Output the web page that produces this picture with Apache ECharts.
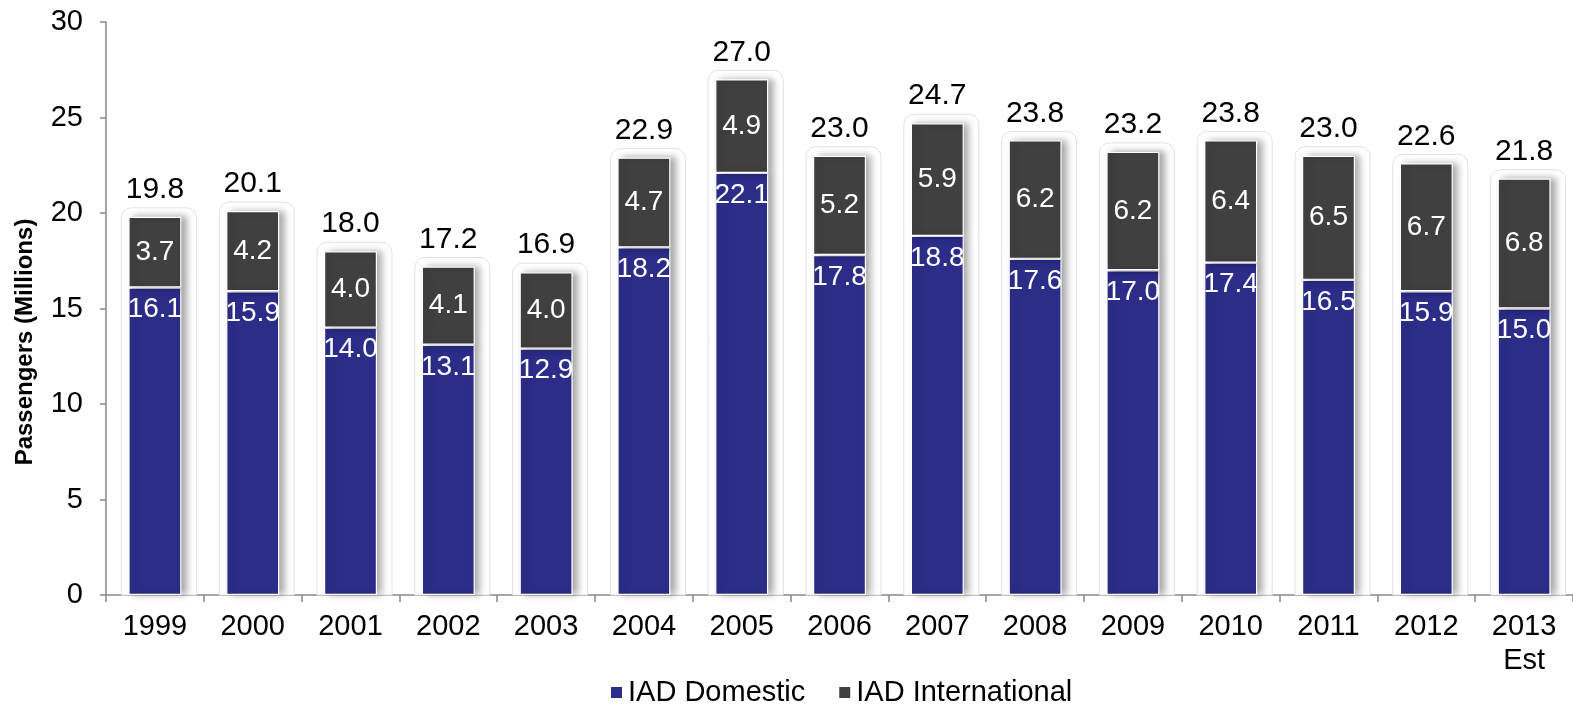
<!DOCTYPE html>
<html>
<head>
<meta charset="utf-8">
<script src="https://cdn.jsdelivr.net/npm/echarts@6/dist/echarts.min.js"></script>
<style>html,body{margin:0;padding:0;background:#fff;}#c{width:1573px;height:706px;}</style>
</head>
<body>
<div id="c"></div>
<script>
var years = ['1999','2000','2001','2002','2003','2004','2005','2006','2007','2008','2009','2010','2011','2012','2013\nEst'];
var domestic = [16.1,15.9,14.0,13.1,12.9,18.2,22.1,17.8,18.8,17.6,17.0,17.4,16.5,15.9,15.0];
var international = [3.7,4.2,4.0,4.1,4.0,4.7,4.9,5.2,5.9,6.2,6.2,6.4,6.5,6.7,6.8];
var totals = [19.8,20.1,18.0,17.2,16.9,22.9,27.0,23.0,24.7,23.8,23.2,23.8,23.0,22.6,21.8];
var yTicks = [0,5,10,15,20,25,30];

var FONT = 'Liberation Sans, Arial, sans-serif';
var BW = 53;
var chart = echarts.init(document.getElementById('c'));
chart.setOption({
  animation: false,
  textStyle: {fontFamily: FONT},
  grid: {left: 106, right: 0, top: 22, bottom: 111, containLabel: false},
  legend: {
    data: ['IAD Domestic','IAD International'],
    left: 604, top: 673,
    itemWidth: 13, itemHeight: 13, itemGap: 32,
    icon: 'rect',
    textStyle: {fontSize: 29, color: '#000', fontFamily: FONT}
  },
  graphic: [{
    type: 'text',
    x: 25, y: 342,
    rotation: Math.PI / 2,
    style: {text: 'Passengers (Millions)', font: 'bold 24px ' + FONT, fill: '#000',
      textAlign: 'center', textVerticalAlign: 'middle'}
  }],
  xAxis: {
    type: 'category', data: years,
    axisLine: {lineStyle: {color: '#898989', width: 1.5}},
    axisTick: {show: true, length: 7, lineStyle: {color: '#898989', width: 1.5}},
    axisLabel: {fontSize: 29, color: '#000', margin: 15, lineHeight: 34, fontFamily: FONT}
  },
  yAxis: {
    type: 'value', min: 0, max: 30, interval: 5,
    splitLine: {show: false},
    axisLine: {show: true, lineStyle: {color: '#898989', width: 1.5}},
    axisTick: {show: true, length: 6, lineStyle: {color: '#898989', width: 1.5}},
    axisLabel: {fontSize: 29, color: '#000', margin: 23, fontFamily: FONT,
      formatter: function(v){ return yTicks.indexOf(v) >= 0 ? String(v) : ''; }}
  },
  series: [
    {
      type: 'custom', name: 'halo', z: 1, silent: true,
      data: totals.map(function(t,i){ return [i,t]; }),
      renderItem: function(params, api){
        var top = api.coord([api.value(0), api.value(1)]);
        var base = api.coord([api.value(0), 0]);
        return {
          type: 'rect',
          shape: {x: top[0] - BW/2 - 7, y: top[1] - 9, width: BW + 22, height: base[1] - top[1] + 9, r: [10,10,0,0]},
          style: {fill: '#fff', stroke: '#e0e0e0', lineWidth: 1}
        };
      }
    },
    {
      name: 'IAD Domestic', type: 'bar', stack: 'a', barWidth: BW, z: 3,
      data: domestic,
      itemStyle: {color: '#2C2D89', borderColor: '#fff', borderWidth: 1.2,
        shadowColor: 'rgba(0,0,0,0.35)', shadowBlur: 7, shadowOffsetX: 5, shadowOffsetY: 0},
      label: {show: true, position: 'insideTop', distance: 8, color: '#fff', fontSize: 28, fontFamily: FONT,
        formatter: function(p){ return p.value.toFixed(1); }}
    },
    {
      name: 'IAD International', type: 'bar', stack: 'a', barWidth: BW, z: 3,
      data: international,
      itemStyle: {color: '#404040', borderColor: '#fff', borderWidth: 1.2,
        shadowColor: 'rgba(0,0,0,0.35)', shadowBlur: 7, shadowOffsetX: 5, shadowOffsetY: 0},
      label: {show: true, position: 'inside', color: '#fff', fontSize: 28, fontFamily: FONT,
        formatter: function(p){ return p.value.toFixed(1); }}
    },
    {
      name: 'Total', type: 'bar', stack: 'a', barWidth: BW, z: 4,
      data: totals.map(function(){ return 0; }),
      itemStyle: {color: 'rgba(0,0,0,0)'},
      label: {show: true, position: 'top', distance: 12, color: '#000', fontSize: 30, fontFamily: FONT,
        formatter: function(p){ return totals[p.dataIndex].toFixed(1); }}
    }
  ]
});
</script>
</body>
</html>
